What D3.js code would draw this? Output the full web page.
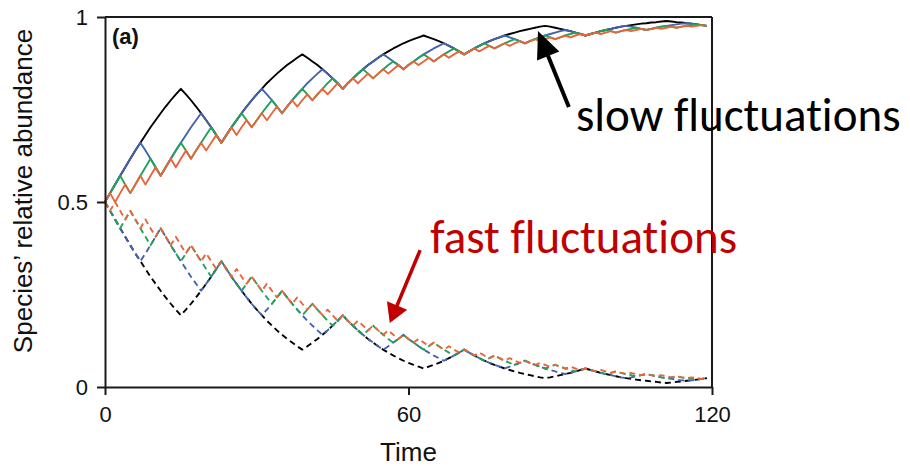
<!DOCTYPE html>
<html><head><meta charset="utf-8">
<script src="https://cdn.jsdelivr.net/npm/d3@7"></script>
<style>html,body{margin:0;padding:0;background:#fff;} svg{display:block} text{font-variant-ligatures:none;font-feature-settings:"liga" 0,"clig" 0;}</style>
</head><body><svg id="chart" width="910" height="466"></svg>
<script>
const xTicks = [0, 60, 120];
const yTicks = [0, 0.5, 1];
const xLabel = "Time";
const yLabel = "Species\u2019 relative abundance";

// species 1 (solid), time steps 0..119
const blackUpper = [.500,.524,.547,.571,.594,.617,.639,.660,.681,.702,.721,.740,.758,.775,.791,.806,
.791,.775,.758,.740,.721,.702,.681,.660,
.681,.702,.721,.740,.758,.775,.791,.806,.821,.834,.847,.859,.870,.880,.890,.899,
.890,.880,.870,.859,.847,.834,.821,.806,
.821,.834,.847,.859,.870,.880,.890,.899,.907,.915,.922,.929,.935,.940,.945,.950,
.945,.940,.935,.929,.922,.915,.907,.899,
.907,.915,.922,.929,.935,.940,.945,.950,.954,.958,.962,.965,.968,.971,.974,.976,
.974,.971,.968,.965,.962,.958,.954,.950,
.954,.958,.962,.965,.968,.971,.974,.976,.978,.980,.982,.983,.985,.986,.988,.989,
.988,.986,.985,.983,.982,.980,.978,.976];

const blueUpper = [.500,.524,.547,.571,.594,.617,.639,.660,
.639,.617,.594,.571,
.594,.617,.639,.660,.681,.702,.721,.740,
.721,.702,.681,.660,
.681,.702,.721,.740,.758,.775,.791,.806,
.791,.775,.758,.740,
.758,.775,.791,.806,.821,.834,.847,.859,
.847,.834,.821,.806,
.821,.834,.847,.859,.870,.880,.890,.899,
.890,.880,.870,.859,
.870,.880,.890,.899,.907,.915,.922,.929,
.922,.915,.907,.899,
.907,.915,.922,.929,.935,.940,.945,.950,
.945,.940,.935,.929,
.935,.940,.945,.950,.954,.958,.962,.965,
.962,.958,.954,.950,
.954,.958,.962,.965,.968,.971,.974,.976,
.974,.971,.968,.965,
.968,.971,.974,.976,.978,.980,.982,.983,
.982,.980,.978,.976];

const greenUpper = [.500,.524,.547,.571,.547,.524,
.547,.571,.594,.617,.594,.571,
.594,.617,.639,.660,.639,.617,
.639,.660,.681,.702,.681,.660,
.681,.702,.721,.740,.721,.702,
.721,.740,.758,.775,.758,.740,
.758,.775,.791,.806,.791,.775,
.791,.806,.821,.834,.821,.806,
.821,.834,.847,.859,.847,.834,
.847,.859,.870,.880,.870,.859,
.870,.880,.890,.899,.890,.880,
.890,.899,.907,.915,.907,.899,
.907,.915,.922,.929,.922,.915,
.922,.929,.935,.940,.935,.929,
.935,.940,.945,.950,.945,.940,
.945,.950,.954,.958,.954,.950,
.954,.958,.962,.965,.962,.958,
.962,.965,.968,.971,.968,.965,
.968,.971,.974,.976,.974,.971,
.974,.976,.978,.980,.978,.976];

const orangeUpper = [.500,.524,.500, .524,.547,.524, .547,.571,.547, .571,.594,.571,
.594,.617,.594, .617,.639,.617, .639,.660,.639, .660,.681,.660,
.681,.702,.681, .702,.721,.702, .721,.740,.721, .740,.758,.740,
.758,.775,.758, .775,.791,.775, .791,.806,.791, .806,.821,.806,
.821,.834,.821, .834,.847,.834, .847,.859,.847, .859,.870,.859,
.870,.880,.870, .880,.890,.880, .890,.899,.890, .899,.907,.899,
.907,.915,.907, .915,.922,.915, .922,.929,.922, .929,.935,.929,
.935,.940,.935, .940,.945,.940, .945,.950,.945, .950,.954,.950,
.954,.958,.954, .958,.962,.958, .962,.965,.962, .965,.968,.965,
.968,.971,.968, .971,.974,.971, .974,.976,.974, .976,.978,.976];

// species 2 (dashed)
const blackLower = [.500,.476,.453,.429,.406,.383,.361,.340,.319,.298,.279,.260,.242,.225,.209,.194,
.209,.225,.242,.260,.279,.298,.319,.340,
.319,.298,.279,.260,.242,.225,.209,.194,.179,.166,.153,.141,.130,.120,.110,.101,
.110,.120,.130,.141,.153,.166,.179,.194,
.179,.166,.153,.141,.130,.120,.110,.101,.093,.085,.078,.071,.065,.060,.055,.050,
.055,.060,.065,.071,.078,.085,.093,.101,
.093,.085,.078,.071,.065,.060,.055,.050,.046,.042,.038,.035,.032,.029,.026,.024,
.026,.029,.032,.035,.038,.042,.046,.050,
.046,.042,.038,.035,.032,.029,.026,.024,.022,.020,.018,.017,.015,.014,.012,.011,
.012,.014,.015,.017,.018,.020,.022,.024];

const blueLower = [.500,.476,.453,.429,.406,.383,.361,.340,
.361,.383,.406,.429,
.406,.383,.361,.340,.319,.298,.279,.260,
.279,.298,.319,.340,
.319,.298,.279,.260,.242,.225,.209,.194,
.209,.225,.242,.260,
.242,.225,.209,.194,.179,.166,.153,.141,
.153,.166,.179,.194,
.179,.166,.153,.141,.130,.120,.110,.101,
.110,.120,.130,.141,
.130,.120,.110,.101,.093,.085,.078,.071,
.078,.085,.093,.101,
.093,.085,.078,.071,.065,.060,.055,.050,
.055,.060,.065,.071,
.065,.060,.055,.050,.046,.042,.038,.035,
.038,.042,.046,.050,
.046,.042,.038,.035,.032,.029,.026,.024,
.026,.029,.032,.035,
.032,.029,.026,.024,.022,.020,.018,.017,
.018,.020,.022,.024];

const greenLower = [.500,.476,.453,.429,.453,.476,
.453,.429,.406,.383,.406,.429,
.406,.383,.361,.340,.361,.383,
.361,.340,.319,.298,.319,.340,
.319,.298,.279,.260,.279,.298,
.279,.260,.242,.225,.242,.260,
.242,.225,.209,.194,.209,.225,
.209,.194,.179,.166,.179,.194,
.179,.166,.153,.141,.153,.166,
.153,.141,.130,.120,.130,.141,
.130,.120,.110,.101,.110,.120,
.110,.101,.093,.085,.093,.101,
.093,.085,.078,.071,.078,.085,
.078,.071,.065,.060,.065,.071,
.065,.060,.055,.050,.055,.060,
.055,.050,.046,.042,.046,.050,
.046,.042,.038,.035,.038,.042,
.038,.035,.032,.029,.032,.035,
.032,.029,.026,.024,.026,.029,
.026,.024,.022,.020,.022,.024];

const orangeLower = [.500,.476,.500, .476,.453,.476, .453,.429,.453, .429,.406,.429,
.406,.383,.406, .383,.361,.383, .361,.340,.361, .340,.319,.340,
.319,.298,.319, .298,.279,.298, .279,.260,.279, .260,.242,.260,
.242,.225,.242, .225,.209,.225, .209,.194,.209, .194,.179,.194,
.179,.166,.179, .166,.153,.166, .153,.141,.153, .141,.130,.141,
.130,.120,.130, .120,.110,.120, .110,.101,.110, .101,.093,.101,
.093,.085,.093, .085,.078,.085, .078,.071,.078, .071,.065,.071,
.065,.060,.065, .060,.055,.060, .055,.050,.055, .050,.046,.050,
.046,.042,.046, .042,.038,.042, .038,.035,.038, .035,.032,.035,
.032,.029,.032, .029,.026,.029, .026,.024,.026, .024,.022,.024];

const seriesColors = ["#000000", "#4263ad", "#20a25a", "#e8653a"];
const upperSeries = [blackUpper, blueUpper, greenUpper, orangeUpper];
const lowerSeries = [blackLower, blueLower, greenLower, orangeLower];

const svg = d3.select("#chart");
const x = d3.scaleLinear().domain([0, 120]).range([105, 712]);
const y = d3.scaleLinear().domain([0, 1]).range([387, 17]);
const line = d3.line().x((d, i) => x(i)).y(d => y(d));

const plot = svg.append("g");
// dashed (species 2)
lowerSeries.forEach((s, k) => {
  plot.append("path").attr("d", line(s)).attr("fill", "none")
    .attr("stroke", seriesColors[k]).attr("stroke-width", 1.9)
    .attr("stroke-dasharray", "6,4").attr("stroke-linejoin", "round");
});
// solid (species 1)
upperSeries.forEach((s, k) => {
  plot.append("path").attr("d", line(s)).attr("fill", "none")
    .attr("stroke", seriesColors[k]).attr("stroke-width", 1.9)
    .attr("stroke-linejoin", "round");
});

// axes
const tickFont = "'Liberation Sans', Arial, sans-serif";
const yAxis = svg.append("g").attr("transform", `translate(${x(0)},0)`)
  .call(d3.axisLeft(y).tickValues(yTicks).tickFormat(d3.format("")).tickSize(8).tickSizeOuter(0).tickPadding(9));
const xAxis = svg.append("g").attr("transform", `translate(0,${y(0)})`)
  .call(d3.axisBottom(x).tickValues(xTicks).tickFormat(d3.format("d")).tickSize(8).tickSizeOuter(0).tickPadding(11));
[yAxis, xAxis].forEach(a => {
  a.selectAll("path,line").attr("stroke", "#1a1a1a").attr("stroke-width", 2);
  a.selectAll("text").attr("fill", "#111").style("font-family", tickFont).style("font-size", "22px");
});
// frame top and right
svg.append("line").attr("x1", x(0)).attr("x2", x(120)).attr("y1", y(1)).attr("y2", y(1))
  .attr("stroke", "#1a1a1a").attr("stroke-width", 2);
svg.append("line").attr("x1", x(120)).attr("x2", x(120)).attr("y1", y(1)).attr("y2", y(0))
  .attr("stroke", "#1a1a1a").attr("stroke-width", 2);

// axis titles
svg.append("text").attr("x", x(60)).attr("y", 461).attr("text-anchor", "middle")
  .style("font-family", tickFont).style("font-size", "26px").attr("fill", "#111").text(xLabel);
svg.append("text").attr("transform", `translate(32,${y(0.5) - 11}) rotate(-90)`).attr("text-anchor", "middle")
  .style("font-family", tickFont).style("font-size", "26px").attr("fill", "#111").text(yLabel);

// panel label
svg.append("text").attr("x", 112).attr("y", 44)
  .style("font-family", tickFont).style("font-size", "22px").style("font-weight", "bold").attr("fill", "#111").text("(a)");

// annotations
const annFont = "Carlito, Lato, 'Open Sans', sans-serif";
function arrow(t0, v0, t1, v1, color, width, headLen, headHalf) {
  const x0 = x(t0), y0 = y(v0), x1 = x(t1), y1 = y(v1);
  const dx = x1 - x0, dy = y1 - y0, L = Math.hypot(dx, dy);
  const ux = dx / L, uy = dy / L;
  const bx = x1 - ux * headLen, by = y1 - uy * headLen;
  svg.append("line").attr("x1", x0).attr("y1", y0).attr("x2", bx + ux * 2).attr("y2", by + uy * 2)
    .attr("stroke", color).attr("stroke-width", width);
  svg.append("path").attr("d", `M${x1},${y1}L${bx - uy * headHalf},${by + ux * headHalf}L${bx + uy * headHalf},${by - ux * headHalf}Z`)
    .attr("fill", color);
}
arrow(91.7, 0.757, 85.6, 0.962, "#000", 4, 27, 12);
svg.append("text").attr("x", x(93.1)).attr("y", y(0.692))
  .style("font-family", annFont).style("font-size", "47px").attr("fill", "#000").text("slow fluctuations");
arrow(62.3, 0.370, 56.3, 0.173, "#c00000", 3.5, 19, 11);
svg.append("text").attr("x", x(64.3)).attr("y", y(0.362))
  .style("font-family", annFont).style("font-size", "47px").attr("fill", "#c00000").text("fast fluctuations");
</script>
</body></html>
